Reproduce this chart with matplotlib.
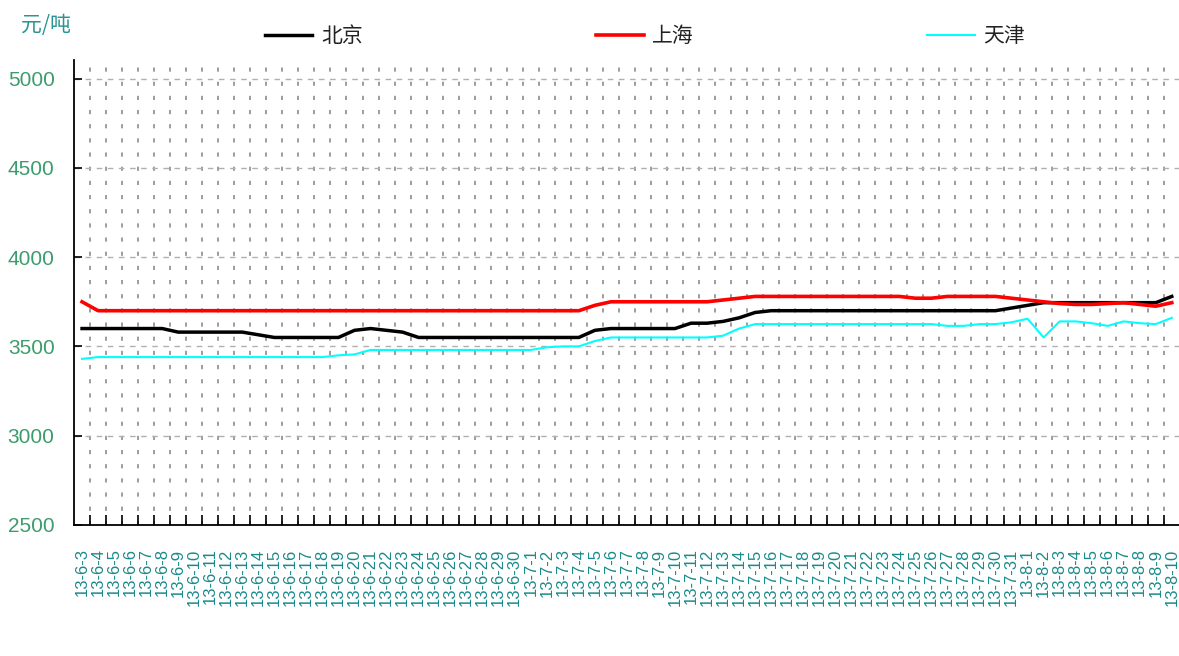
import matplotlib
matplotlib.use('Agg')
import matplotlib.pyplot as plt
import numpy as np

plt.rcParams['font.family'] = ['Liberation Sans', 'Noto Sans CJK SC', 'DejaVu Sans']

# 日期标签 13-6-3 ... 13-8-10
dias_jun = list(range(3, 31))
dias_jul = list(range(1, 32))
dias_ago = list(range(1, 11))
datas = ([f'13-6-{d}' for d in dias_jun] + [f'13-7-{d}' for d in dias_jul]
         + [f'13-8-{d}' for d in dias_ago])

beijing = ([3600] * 6 + [3580] * 5 + [3565] + [3550] * 5 + [3590, 3600, 3590, 3580]
           + [3550] * 11 + [3590] + [3600] * 5 + [3630, 3630, 3640, 3660, 3690]
           + [3700] * 15 + [3715, 3730] + [3745] * 8 + [3780])
shanghai = ([3750] + [3700] * 31 + [3730] + [3750] * 7 + [3760, 3770] + [3780] * 10
            + [3770, 3770] + [3780] * 4
            + [3770, 3760, 3750, 3740, 3735, 3735, 3740, 3745, 3735, 3725, 3745])
tianjin = ([3430] + [3440] * 15 + [3450, 3455] + [3480] * 11 + [3495, 3500, 3500, 3530]
           + [3550] * 7 + [3560, 3600] + [3625] * 12
           + [3615, 3615, 3625, 3625, 3635, 3655, 3550, 3640, 3640, 3630, 3615,
              3640, 3630, 3625, 3660])

series = [('北京', beijing, '#000000', 2.5),
          ('上海', shanghai, '#ff0000', 2.6),
          ('天津', tianjin, '#00ffff', 1.5)]

fig = plt.figure(figsize=(11.79, 6.56), dpi=100)
ax = fig.add_axes([0.0628, 0.2, 0.9372, 0.7085])

x = np.arange(len(datas))
for nome, valores, cor, lw in series:
    ax.plot(x, valores, color=cor, lw=lw, label=nome, solid_joinstyle='round')

ax.set_xlim(-0.5, 68.45)
ax.set_ylim(2500, 5105)
ax.set_yticks([2500, 3000, 3500, 4000, 4500, 5000])

ax.set_xticks(x)
ax.set_xticklabels(datas, rotation=90, va='top', ha='center')
ax.set_xticks(np.arange(0.5, len(datas) - 0.5, 1), minor=True)
ax.tick_params(axis='x', which='major', length=0, pad=17, labelsize=12,
               labelcolor='#1a8a8a')
ax.tick_params(axis='x', which='minor', direction='in', length=7, width=1.2,
               color='black')
ax.tick_params(axis='y', direction='in', length=6, width=1.2, pad=14,
               labelsize=15, labelcolor='#3c9c6c')

ax.grid(axis='y', which='major', color='#b0b0b0', linestyle=(0, (4, 4)), lw=1)
ax.grid(axis='x', which='minor', color='#8c8c8c', linestyle=(0, (2.5, 6)), lw=1.2)
ax.set_axisbelow(True)

for lado in ['top', 'right']:
    ax.spines[lado].set_visible(False)
for lado in ['left', 'bottom']:
    ax.spines[lado].set_linewidth(1.3)

fig.text(0.018, 0.962, '元/吨', color='#2a9494', fontsize=15,
         family=['Noto Sans CJK SC', 'DejaVu Sans'], va='center')

leg = fig.legend(loc='center', bbox_to_anchor=(0.547, 0.945), ncol=3, frameon=False,
                 prop={'family': 'Noto Sans CJK SC', 'size': 15},
                 handlelength=2.3, handletextpad=0.4, columnspacing=11.2)
for t in leg.get_texts():
    t.set_color('#222222')

plt.savefig('out.png', dpi=100)
